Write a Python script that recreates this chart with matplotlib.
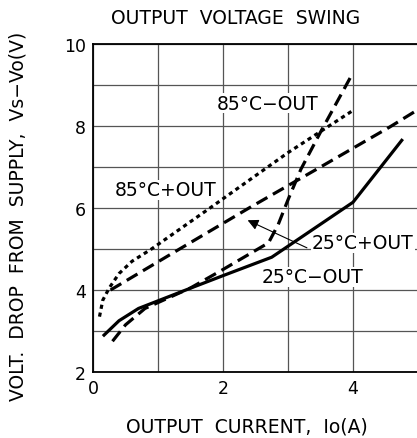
import matplotlib
matplotlib.use('Agg')
import matplotlib.pyplot as plt

# curves
x_85_pos = [0.10, 0.15, 0.25, 0.40, 0.60, 0.90, 1.80, 3.00, 4.00]
y_85_pos = [3.35, 3.75, 4.05, 4.40, 4.70, 5.00, 6.00, 7.35, 8.38]

x_85_neg = [0.30, 0.50, 0.80, 1.50, 2.00, 2.70, 2.85, 3.00, 3.20, 3.50, 4.00]
y_85_neg = [2.75, 3.15, 3.55, 4.05, 4.50, 5.15, 5.60, 6.20, 6.95, 7.85, 9.30]

x_25_pos = [0.27, 1.30, 2.40, 3.50, 4.57, 5.00]
y_25_pos = [4.00, 4.97, 6.00, 7.00, 7.98, 8.40]

x_25_neg = [0.17, 0.40, 0.70, 1.46, 2.00, 2.75, 4.00, 4.75]
y_25_neg = [2.90, 3.25, 3.55, 4.02, 4.35, 4.80, 6.14, 7.65]

xticks = [0, 2, 4]
yticks = [2, 4, 6, 8, 10]

plt.rcParams['font.family'] = 'DejaVu Sans'

fig = plt.figure(figsize=(4.17, 4.39), dpi=100)
ax = fig.add_axes([93/417, 66/439, 325/417, 328/439])

lw = 2.3
ax.plot(x_85_pos, y_85_pos, color='black', lw=lw, dashes=(1.3, 1.2))
ax.plot(x_85_neg, y_85_neg, color='black', lw=lw, dashes=(3.9, 2.0))
ax.plot(x_25_pos, y_25_pos, color='black', lw=lw, dashes=(3.9, 2.0))
ax.plot(x_25_neg, y_25_neg, color='black', lw=lw)

ax.set_xlim(0, 5)
ax.set_ylim(2, 10)
ax.set_xticks([0, 1, 2, 3, 4])
ax.set_xticklabels([str(t) if t in xticks else '' for t in range(5)])
ax.set_yticks(range(2, 11))
ax.set_yticklabels([str(t) if t in yticks else '' for t in range(2, 11)])
ax.tick_params(length=0, labelsize=12.5, pad=5)
ax.grid(True, color='#555555', lw=0.9)
ax.set_axisbelow(True)
for s in ax.spines.values():
    s.set_linewidth(1.3)
ax.spines['right'].set_visible(False)

fs = 13.5
bb = dict(facecolor='white', edgecolor='none', pad=0.5)
ax.text(1.91, 8.56, '85°C−OUT', fontsize=fs, va='center', ha='left', bbox=bb)
ax.text(0.34, 6.44, '85°C+OUT', fontsize=fs, va='center', ha='left', bbox=bb)
ax.text(3.37, 5.15, '25°C+OUT', fontsize=fs, va='center', ha='left', bbox=bb)
ax.text(2.60, 4.32, '25°C−OUT', fontsize=fs, va='center', ha='left', bbox=bb)
ax.annotate('', xy=(2.34, 5.73), xytext=(3.33, 5.0),
            arrowprops=dict(arrowstyle='-|>', color='black', lw=0.8,
                            mutation_scale=16))

fig.text(236/417, 1 - 19/439, 'OUTPUT  VOLTAGE  SWING', fontsize=fs,
         ha='center', va='center')
fig.text(247/417, 1 - 427/439, 'OUTPUT  CURRENT,  Io(A)', fontsize=fs,
         ha='center', va='center')
fig.text(18/417, 1 - 216/439, 'VOLT.  DROP  FROM  SUPPLY,  Vs−Vo(V)',
         fontsize=fs, ha='center', va='center', rotation=90)

fig.savefig('out.png', dpi=100)
